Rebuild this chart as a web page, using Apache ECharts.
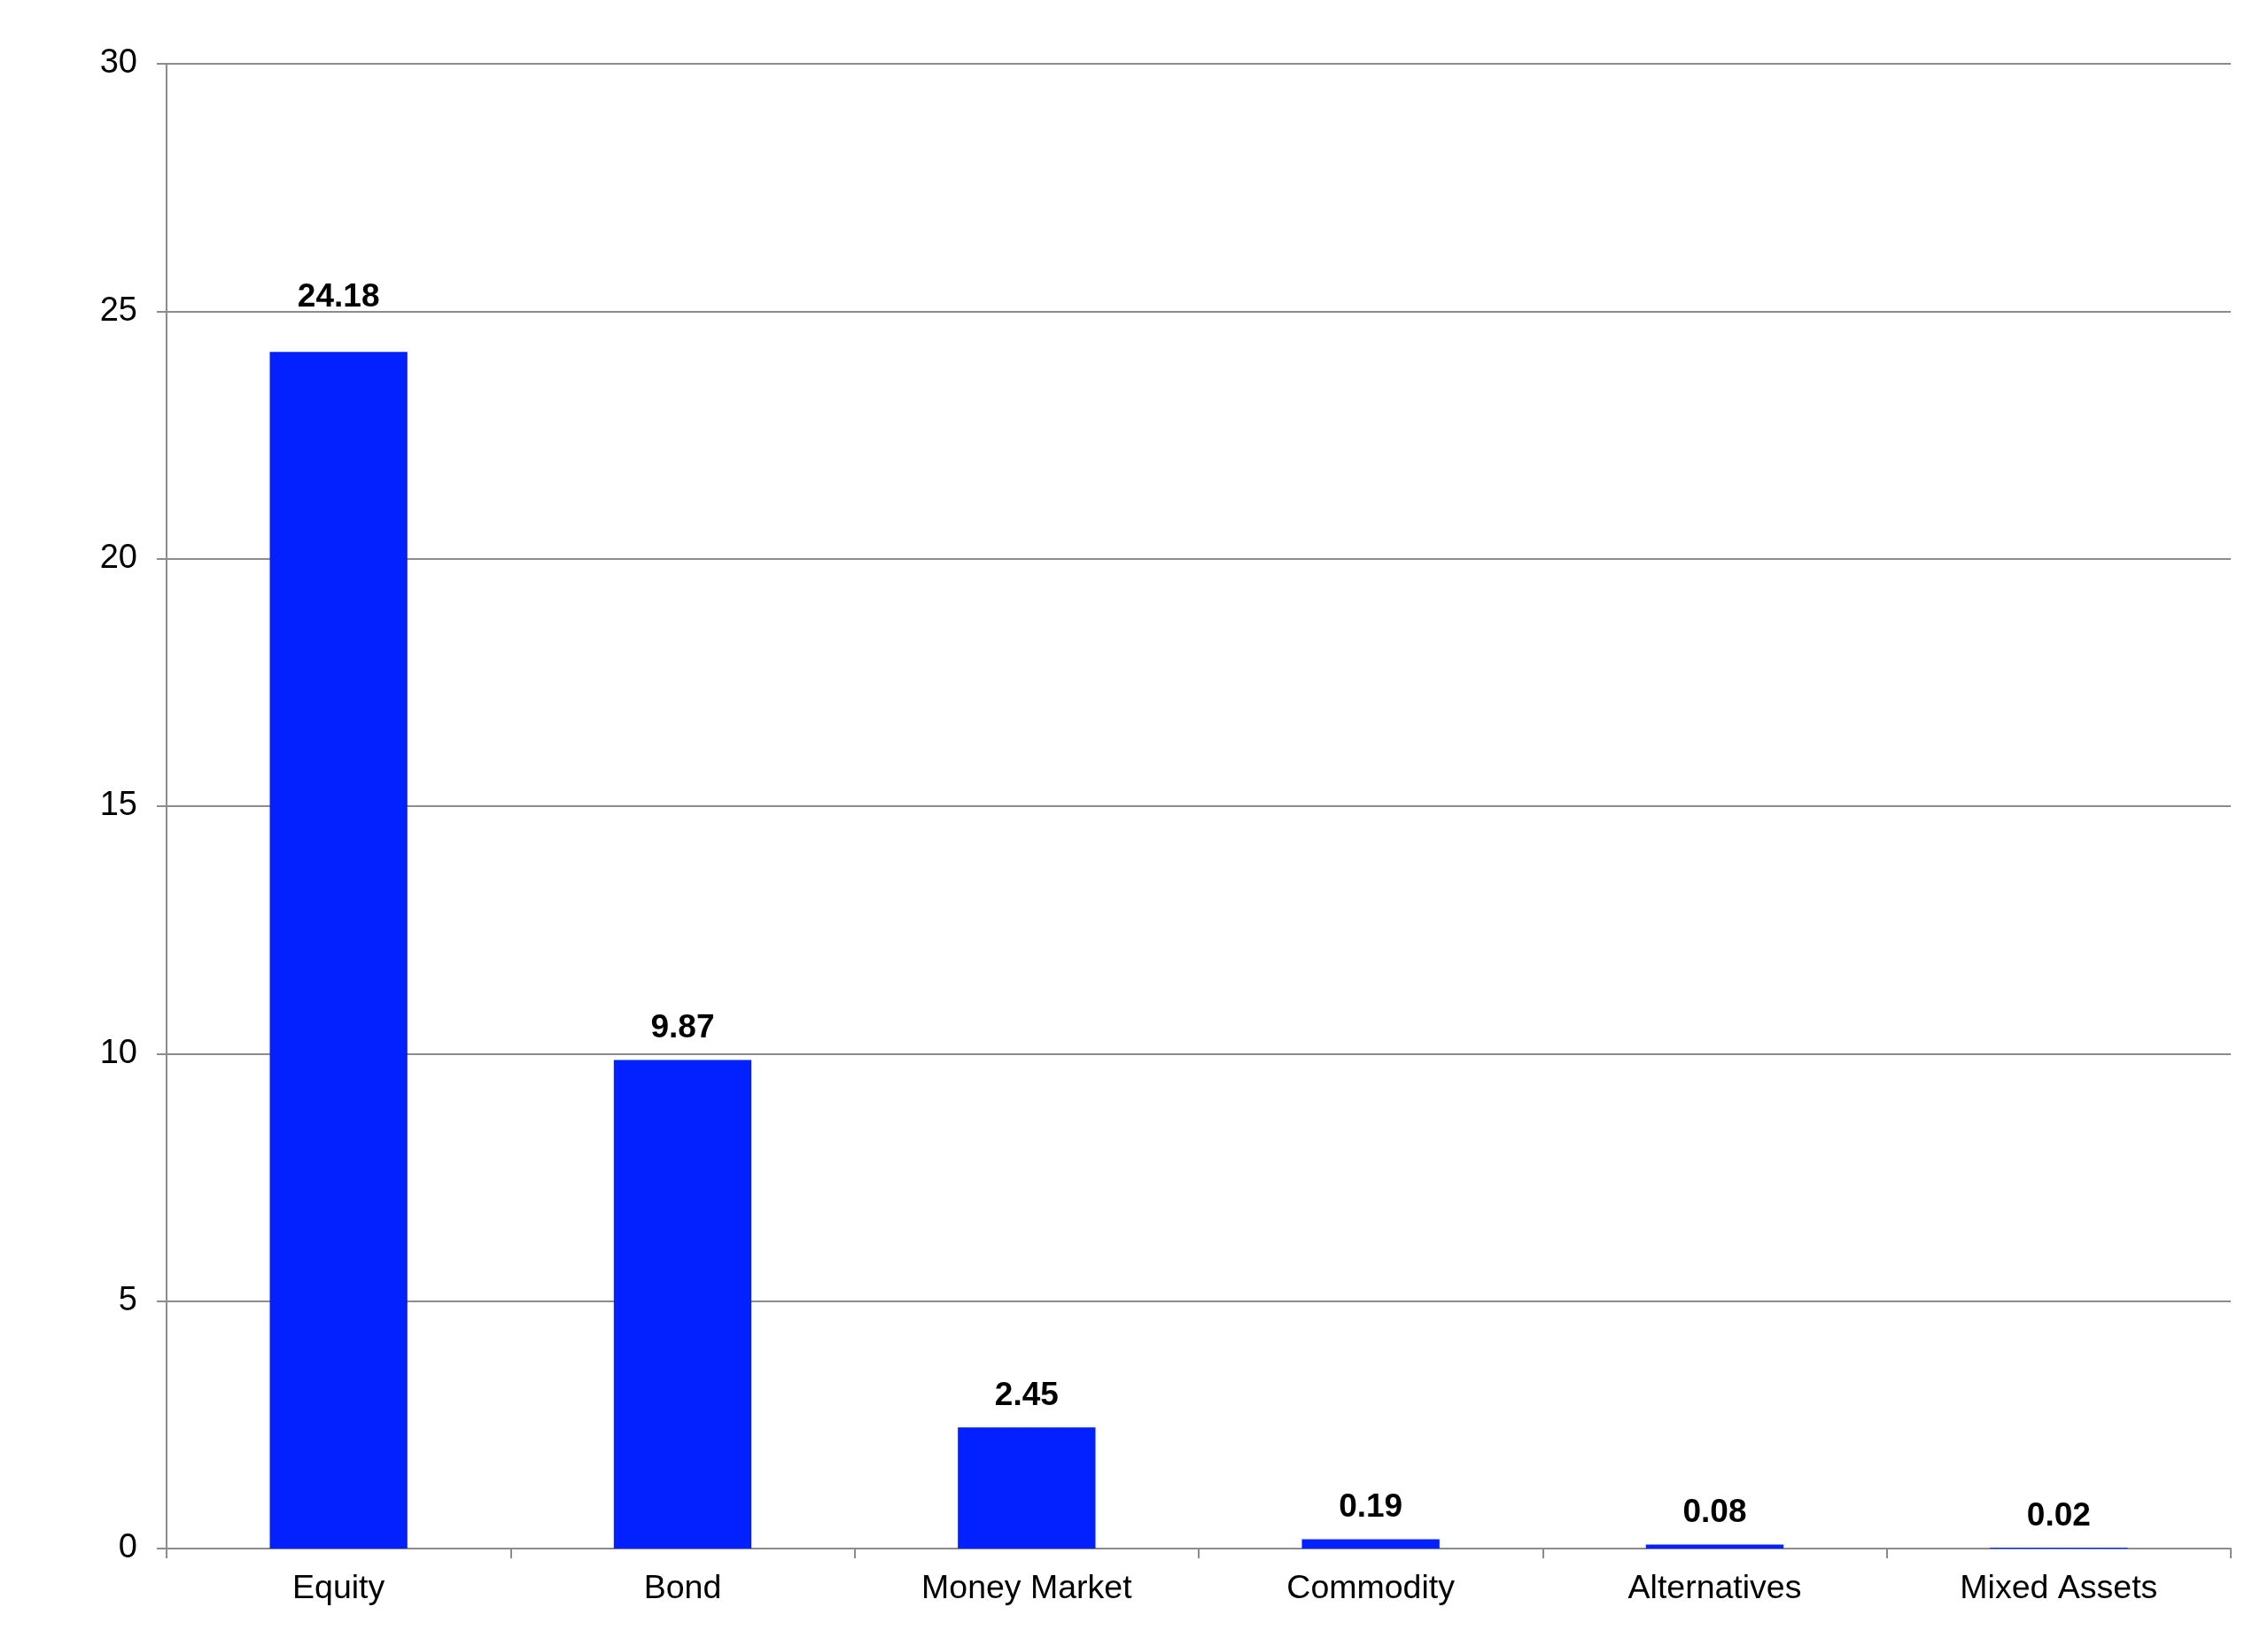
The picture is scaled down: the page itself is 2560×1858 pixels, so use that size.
<!DOCTYPE html>
<html>
<head>
  <meta charset="utf-8">
  <script src="https://cdn.jsdelivr.net/npm/echarts@6/dist/echarts.min.js"></script>
  <style>
    html, body {
      margin: 0;
      padding: 0;
      background: #fff;
    }
    #chart {
      width: 2560px;
      height: 1858px;
    }
  </style>
</head>
<body>
  <div id="chart"></div>
  <script>
    const categories = ['Equity', 'Bond', 'Money Market', 'Commodity', 'Alternatives', 'Mixed Assets']
    const values = [24.18, 9.87, 2.45, 0.19, 0.08, 0.02]
    const yTicks = [0, 5, 10, 15, 20, 25, 30]

    const gridColor = '#8c8c8c'
    const barColor = '#0320ff'

    const myChart = echarts.init(document.getElementById('chart'))

    const option = {
      backgroundColor: '#fff',
      animation: false,
      textStyle: {
        fontFamily: 'Liberation Sans, Arial, sans-serif',
      },
      grid: {
        left: 188,
        right: 42,
        top: 72,
        bottom: 110,
      },
      xAxis: {
        type: 'category',
        data: categories,
        axisLine: {
          show: true,
          lineStyle: { color: gridColor, width: 2 },
        },
        axisTick: {
          show: true,
          length: 11,
          lineStyle: { color: gridColor, width: 2 },
        },
        axisLabel: {
          color: '#000',
          fontSize: 37.5,
          margin: 27,
        },
      },
      yAxis: {
        type: 'value',
        min: yTicks[0],
        max: yTicks[yTicks.length - 1],
        interval: yTicks[1] - yTicks[0],
        axisLine: {
          show: true,
          lineStyle: { color: gridColor, width: 2 },
        },
        axisTick: {
          show: true,
          length: 11,
          lineStyle: { color: gridColor, width: 2 },
        },
        axisLabel: {
          color: '#000',
          fontSize: 38,
          margin: 33,
          padding: [8, 0, 0, 0],
        },
        splitLine: {
          show: true,
          lineStyle: { color: gridColor, width: 2 },
        },
      },
      series: [
        {
          type: 'bar',
          barWidth: '40%',
          itemStyle: { color: barColor },
          // the tallest label sits a bit higher in the original
          data: values.map((v, i) => ({
            value: v,
            label: { distance: i === 0 ? 43 : 17 },
          })),
          label: {
            show: true,
            position: 'top',
            color: '#000',
            fontSize: 37,
            fontWeight: 'bold',
            formatter: p => p.value.toFixed(2),
          },
        },
      ],
    }

    myChart.setOption(option)
  </script>
</body>
</html>
